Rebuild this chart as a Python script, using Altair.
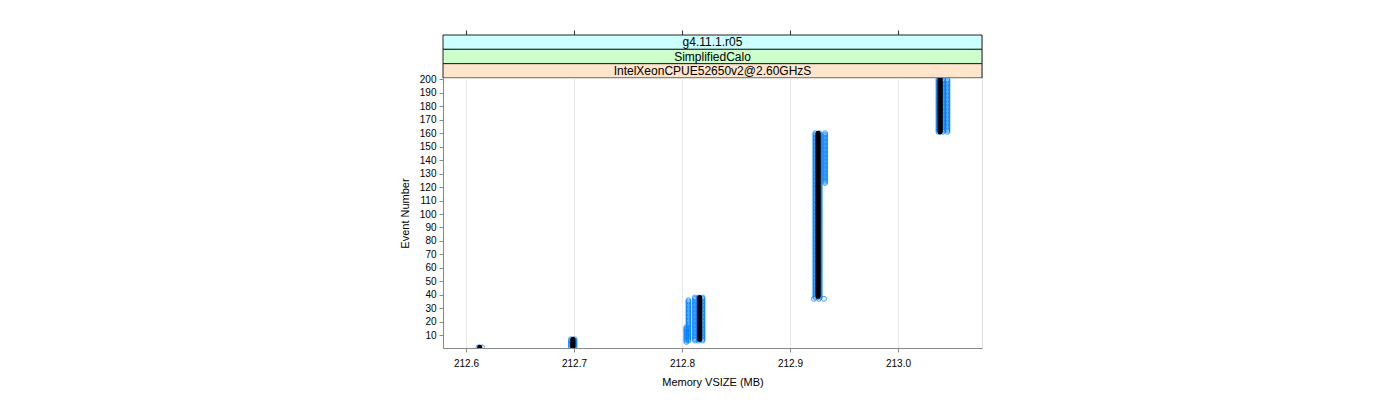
import altair as alt
import pandas as pd

# ---- text / categories ----
strip_labels = ["g4.11.1.r05", "SimplifiedCalo", "IntelXeonCPUE52650v2@2.60GHzS"]
strip_colors = ["#ccffff", "#ccffcc", "#ffe5cc"]

x_ticks = [212.6, 212.7, 212.8, 212.9, 213.0]
y_ticks = list(range(10, 201, 10))
x_domain = [212.5787, 213.0778]
y_domain = [0.5, 201]

# ---- black series: memory value per run of events (first..last) ----
black_mem = [212.6127, 212.699, 212.8164, 212.926, 213.039]
black_first = [1, 1, 7, 39, 161]
black_last = [1, 7, 38, 160, 200]

# ---- blue series (open circles) ----
blue_mem = [212.6116, 212.6148,
            212.6972, 212.7005,
            212.8040, 212.8060, 212.8120, 212.8155, 212.8190,
            212.9235, 212.9275, 212.9325, 212.9222, 212.9269, 212.9315,
            213.0375, 213.0417, 213.0458]
blue_first = [1, 1,
              1, 1,
              5, 6, 6, 6, 6,
              38, 38, 123, 37, 37, 37,
              161, 161, 161]
blue_last = [1, 1,
             7, 7,
             16, 36, 38, 38, 38,
             160, 160, 160, 37, 37, 37,
             200, 200, 200]


def expand(mems, firsts, lasts):
    rows = []
    for m, a, b in zip(mems, firsts, lasts):
        for e in range(a, b + 1):
            rows.append({"mem": m, "event": e})
    return pd.DataFrame(rows)


black_df = expand(black_mem, black_first, black_last)
blue_df = expand(blue_mem, blue_first, blue_last)

W, H = 539, 270
FONT = "Liberation Sans"

xscale = alt.Scale(domain=x_domain, nice=False, zero=False)
yscale = alt.Scale(domain=y_domain, nice=False, zero=False)


def xaxis():
    return alt.Axis(values=x_ticks, format=".1f", title="Memory VSIZE (MB)",
                    grid=True, gridColor="#e8e8e8", tickSize=4, labelPadding=6,
                    titlePadding=8, titleFontWeight=400, labelOverlap=False)


def yaxis():
    return alt.Axis(values=y_ticks, title="Event Number", grid=False,
                    tickSize=4, labelPadding=3, titlePadding=9,
                    titleFontWeight=400, labelOverlap=False, labelSeparation=0,
                    labelFontSize=10)


blue = alt.Chart(blue_df).mark_point(
    shape="circle", filled=False, color="#0080ff", size=24,
    strokeWidth=1, opacity=0.75, clip=True
).encode(
    x=alt.X("mem:Q", scale=xscale, axis=xaxis()),
    y=alt.Y("event:Q", scale=yscale, axis=yaxis()),
)

black = alt.Chart(black_df).mark_point(
    shape="circle", filled=True, color="black", size=26, opacity=1, clip=True
).encode(
    x=alt.X("mem:Q", scale=xscale, axis=xaxis()),
    y=alt.Y("event:Q", scale=yscale, axis=yaxis()),
)

main = alt.layer(blue, black).properties(width=W, height=H)

# ---- strips ----
strip_df = pd.DataFrame({"label": strip_labels, "order": [0, 1, 2]})
tick_df = pd.DataFrame({"tick": x_ticks})

strip_y = alt.Y("label:N", sort=strip_labels, axis=None,
                scale=alt.Scale(paddingInner=0, paddingOuter=0))

strip_rect = alt.Chart(strip_df).mark_rect(stroke="#222", strokeWidth=1).encode(
    y=strip_y,
    x=alt.value(0),
    x2=alt.value(W),
    fill=alt.Fill("label:N", scale=alt.Scale(domain=strip_labels, range=strip_colors),
                  legend=None),
)
strip_text = alt.Chart(strip_df).mark_text(
    font=FONT, fontSize=12, color="black", baseline="middle", align="center"
).encode(
    y=strip_y,
    x=alt.value(W / 2),
    text="label:N",
)
top_ticks = alt.Chart(tick_df).mark_rule(opacity=0).encode(
    x=alt.X("tick:Q", scale=xscale,
            axis=alt.Axis(orient="top", values=x_ticks, labels=False, title=None,
                          domain=False, grid=False, tickSize=5, tickColor="#333")),
)
strips = alt.layer(strip_rect, strip_text, top_ticks).properties(width=W, height=43)

chart = alt.vconcat(strips, main, spacing=0, bounds="flush").properties(
    padding={"left": 398, "top": 29, "right": 5, "bottom": 5}
).configure_view(
    stroke="#333", strokeWidth=1
).configure_axis(
    labelFont=FONT, titleFont=FONT, labelFontSize=10, titleFontSize=12,
    titleFontWeight="normal", labelColor="black", titleColor="black",
    tickColor="#333", domain=False, labelOverlap=False
).configure_axisY(
    labelOverlap=False
).configure(background="white")

chart.save("out.html", embed_options={"renderer": "svg", "actions": False})
